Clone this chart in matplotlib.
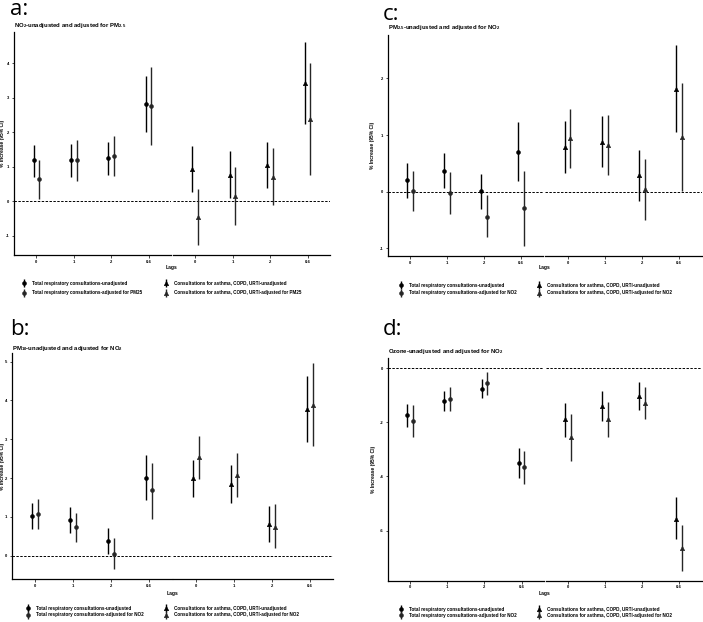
import matplotlib
matplotlib.use('Agg')
import matplotlib.pyplot as plt
from matplotlib.legend_handler import HandlerErrorbar
from matplotlib.container import ErrorbarContainer
import numpy as np

plt.rcParams['font.family'] = ['Liberation Sans', 'DejaVu Sans']
plt.rcParams['mathtext.fontset'] = 'custom'
plt.rcParams['mathtext.rm'] = 'Liberation Sans:bold'
plt.rcParams['mathtext.default'] = 'rm'

lags = ['0', '1', '2', '0-6']

# ---- Panel a: NO2 unadjusted / adjusted for PM2.5
a_tot_unadj = [1.18, 1.20, 1.24, 2.83]
a_tot_unadj_lo = [0.70, 0.71, 0.77, 2.00]
a_tot_unadj_hi = [1.64, 1.66, 1.70, 3.64]
a_tot_adj = [0.64, 1.18, 1.32, 2.76]
a_tot_adj_lo = [0.05, 0.58, 0.72, 1.63]
a_tot_adj_hi = [1.20, 1.76, 1.89, 3.90]
a_con_unadj = [0.94, 0.77, 1.05, 3.43]
a_con_unadj_lo = [0.26, 0.10, 0.39, 2.24]
a_con_unadj_hi = [1.60, 1.44, 1.71, 4.61]
a_con_adj = [-0.46, 0.16, 0.71, 2.38]
a_con_adj_lo = [-1.27, -0.68, -0.10, 0.77]
a_con_adj_hi = [0.34, 0.99, 1.54, 4.00]

# ---- Panel b: PM10 unadjusted / adjusted for NO2
b_tot_unadj = [1.02, 0.92, 0.37, 2.00]
b_tot_unadj_lo = [0.68, 0.58, 0.03, 1.43]
b_tot_unadj_hi = [1.35, 1.24, 0.70, 2.60]
b_tot_adj = [1.08, 0.73, 0.04, 1.68]
b_tot_adj_lo = [0.69, 0.34, -0.34, 0.94]
b_tot_adj_hi = [1.46, 1.10, 0.44, 2.38]
b_con_unadj = [1.99, 1.84, 0.81, 3.77]
b_con_unadj_lo = [1.50, 1.36, 0.34, 2.93]
b_con_unadj_hi = [2.46, 2.34, 1.29, 4.64]
b_con_adj = [2.53, 2.08, 0.74, 3.89]
b_con_adj_lo = [1.98, 1.52, 0.19, 2.82]
b_con_adj_hi = [3.09, 2.65, 1.32, 4.96]

# ---- Panel c: PM2.5 unadjusted / adjusted for NO2
c_tot_unadj = [0.20, 0.37, 0.01, 0.70]
c_tot_unadj_lo = [-0.11, 0.06, -0.30, 0.18]
c_tot_unadj_hi = [0.51, 0.68, 0.32, 1.23]
c_tot_adj = [0.01, -0.02, -0.44, -0.29]
c_tot_adj_lo = [-0.35, -0.39, -0.81, -0.96]
c_tot_adj_hi = [0.37, 0.35, -0.06, 0.36]
c_con_unadj = [0.79, 0.88, 0.29, 1.82]
c_con_unadj_lo = [0.33, 0.43, -0.16, 1.06]
c_con_unadj_hi = [1.24, 1.33, 0.74, 2.59]
c_con_adj = [0.95, 0.83, 0.04, 0.96]
c_con_adj_lo = [0.42, 0.30, -0.50, 0.01]
c_con_adj_hi = [1.46, 1.36, 0.58, 1.92]

# ---- Panel d: Ozone unadjusted / adjusted for NO2
d_tot_unadj = [-1.74, -1.20, -0.77, -3.52]
d_tot_unadj_lo = [-2.17, -1.57, -1.12, -4.07]
d_tot_unadj_hi = [-1.31, -0.83, -0.40, -2.95]
d_tot_adj = [-1.94, -1.14, -0.56, -3.65]
d_tot_adj_lo = [-2.56, -1.57, -1.00, -4.28]
d_tot_adj_hi = [-1.36, -0.70, -0.15, -3.07]
d_con_unadj = [-1.89, -1.40, -1.02, -5.56]
d_con_unadj_lo = [-2.53, -1.94, -1.56, -6.33]
d_con_unadj_hi = [-1.28, -0.85, -0.53, -4.78]
d_con_adj = [-2.56, -1.88, -1.30, -6.64]
d_con_adj_lo = [-3.42, -2.53, -1.89, -7.48]
d_con_adj_hi = [-1.70, -1.26, -0.70, -5.79]

W, H = 703, 622
fig = plt.figure(figsize=(W / 100, H / 100), dpi=100)


def px_axes(l, t, r, b):
    return fig.add_axes([l / W, 1 - b / H, (r - l) / W, (b - t) / H])


x = np.arange(1, len(lags) + 1)
dodge = 0.075
FS_TICK = 3.0


def facet(ax, series, marker, ylim, yticks, first):
    handles = []
    for (est, lo, hi), off, col in zip(series, (-dodge, dodge), ('black', '#262626')):
        est = np.asarray(est); lo = np.asarray(lo); hi = np.asarray(hi)
        h = ax.errorbar(x + off, est, yerr=[est - lo, hi - est], fmt=marker, color=col,
                        ms=2.8 if marker == 'o' else 3.2, mew=0.4, elinewidth=1.0, capsize=0)
        handles.append(h)
    ax.axhline(0, color='black', lw=0.7, ls=(0, (2.5, 1.5)), zorder=0)
    ax.set_xlim(0.4, 4.6)
    ax.set_ylim(*ylim)
    ax.set_xticks(x)
    ax.set_xticklabels(lags, fontweight='bold')
    ax.set_yticks(yticks)
    ax.set_yticklabels([f'{t:g}' for t in yticks], fontweight='bold')
    for s in ('top', 'right'):
        ax.spines[s].set_visible(False)
    ax.spines['bottom'].set_linewidth(0.9)
    ax.spines['left'].set_linewidth(0.9)
    ax.tick_params(labelsize=FS_TICK, length=1.8, width=0.5, pad=1.5)
    if not first:
        ax.spines['left'].set_visible(False)
        ax.tick_params(axis='y', left=False, labelleft=False)
    ax.patch.set_alpha(0)
    return handles


def ylimits(*arrs):
    vals = np.concatenate([np.asarray(a) for a in arrs] + [np.array([0.0])])
    lo, hi = vals.min(), vals.max()
    e = 0.05 * (hi - lo)
    return (lo - e, hi + e)


panels = [
    dict(letter='a:', lpos=(10, 15),
         title=r'NO$_2$-unadjusted and adjusted for PM$_{2.5}$', tpos=(14, 27),
         box=(14, 32, 171, 255), box2=(172.5, 32, 330, 255),
         yl_x=5, lags_y=268, leg_y=(283, 293), leg_x=(24, 166), adj='PM25',
         data=((a_tot_unadj, a_tot_unadj_lo, a_tot_unadj_hi), (a_tot_adj, a_tot_adj_lo, a_tot_adj_hi),
               (a_con_unadj, a_con_unadj_lo, a_con_unadj_hi), (a_con_adj, a_con_adj_lo, a_con_adj_hi)),
         yticks=[-1, 0, 1, 2, 3, 4]),
    dict(letter='b:', lpos=(10, 335),
         title=r'PM$_{10}$-unadjusted and adjusted for NO$_2$', tpos=(12, 350),
         box=(12, 353, 171.5, 579), box2=(173, 353, 332.7, 579),
         yl_x=5, lags_y=593, leg_y=(608, 615), leg_x=(28, 166), adj='NO2',
         data=((b_tot_unadj, b_tot_unadj_lo, b_tot_unadj_hi), (b_tot_adj, b_tot_adj_lo, b_tot_adj_hi),
               (b_con_unadj, b_con_unadj_lo, b_con_unadj_hi), (b_con_adj, b_con_adj_lo, b_con_adj_hi)),
         yticks=[0, 1, 2, 3, 4, 5]),
    dict(letter='c:', lpos=(383, 20),
         title=r'PM$_{2.5}$-unadjusted and adjusted for NO$_2$', tpos=(388, 29),
         box=(387.7, 35, 543.3, 256), box2=(545.2, 35, 701.5, 256),
         yl_x=375, lags_y=268, leg_y=(285, 293), leg_x=(401, 539), adj='NO2',
         data=((c_tot_unadj, c_tot_unadj_lo, c_tot_unadj_hi), (c_tot_adj, c_tot_adj_lo, c_tot_adj_hi),
               (c_con_unadj, c_con_unadj_lo, c_con_unadj_hi), (c_con_adj, c_con_adj_lo, c_con_adj_hi)),
         yticks=[-1, 0, 1, 2]),
    dict(letter='d:', lpos=(383, 335),
         title=r'Ozone-unadjusted and adjusted for NO$_2$', tpos=(388, 353),
         box=(387.7, 358, 544, 580.7), box2=(545.5, 358, 701.5, 580.7),
         yl_x=376, lags_y=594, leg_y=(609, 615.5), leg_x=(401, 539), adj='NO2',
         data=((d_tot_unadj, d_tot_unadj_lo, d_tot_unadj_hi), (d_tot_adj, d_tot_adj_lo, d_tot_adj_hi),
               (d_con_unadj, d_con_unadj_lo, d_con_unadj_hi), (d_con_adj, d_con_adj_lo, d_con_adj_hi)),
         yticks=[-6, -4, -2, 0]),
]

FS_LEG = 3.3
for p in panels:
    tu, ta, cu, ca = p['data']
    ylim = ylimits(*tu, *ta, *cu, *ca)
    ax1 = px_axes(*p['box'])
    ax2 = px_axes(*p['box2'])
    h1 = facet(ax1, (tu, ta), 'o', ylim, p['yticks'], True)
    h2 = facet(ax2, (cu, ca), '^', ylim, p['yticks'], False)
    ax1.set_ylabel('% Increase (95% CI)', fontsize=3.6, fontweight='bold')
    ax1.yaxis.set_label_coords((p['yl_x'] - p['box'][0]) / (p['box'][2] - p['box'][0]), 0.5)

    fig.text(p['lpos'][0] / W, 1 - p['lpos'][1] / H, p['letter'], fontsize=16,
             family='Open Sans', va='baseline', ha='left')
    fig.text(p['tpos'][0] / W, 1 - p['tpos'][1] / H, p['title'], fontsize=4.3,
             fontweight='bold', va='baseline', ha='left')
    cx = (p['box'][0] + p['box2'][2]) / 2
    fig.text(cx / W, 1 - p['lags_y'] / H, 'Lags', fontsize=3.6, fontweight='bold',
             va='center', ha='center')

    labels1 = ['Total respiratory consultations-unadjusted',
               f"Total respiratory consultations-adjusted for {p['adj']}"]
    labels2 = ['Consultations for asthma, COPD, URTI-unadjusted',
               f"Consultations for asthma, COPD, URTI-adjusted for {p['adj']}"]
    ymid = (p['leg_y'][0] + p['leg_y'][1]) / 2
    gap_px = p['leg_y'][1] - p['leg_y'][0]
    fs_px = FS_LEG * 100 / 72
    lsp = max((gap_px - fs_px * 1.15) / fs_px, 0.05)
    for hs, labs, lx in ((h1, labels1, p['leg_x'][0]), (h2, labels2, p['leg_x'][1])):
        hl = 1.0
        fig.legend(hs, labs, loc='center left',
                   bbox_to_anchor=((lx - hl * fs_px / 2) / W, 1 - ymid / H),
                   frameon=False, handlelength=hl,
                   handletextpad=1.2, labelspacing=lsp, borderpad=0,
                   borderaxespad=0, prop={'weight': 'bold', 'size': FS_LEG},
                   handler_map={ErrorbarContainer: HandlerErrorbar(yerr_size=0.9)})

fig.savefig('out.png', dpi=100)
